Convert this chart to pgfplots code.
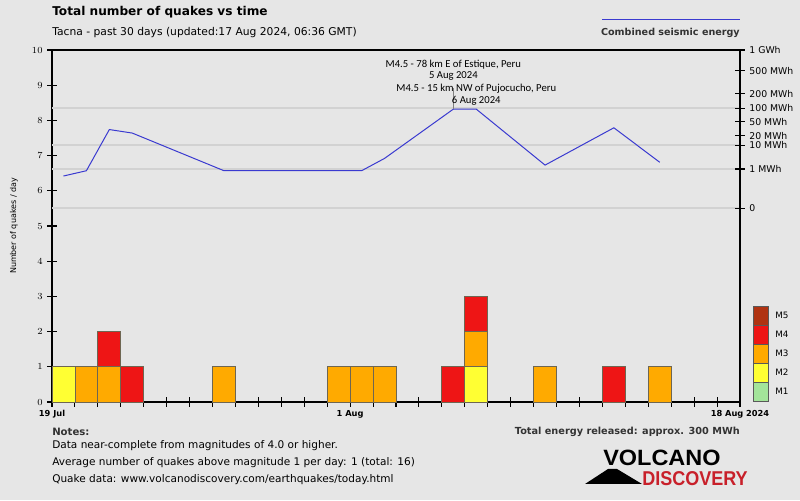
\documentclass[border=0pt]{standalone}
\usepackage{pgfplots}
\usepackage{pgfplotstable}
\pgfplotsset{compat=1.18}
\usepackage{fontspec}
\setmainfont{DejaVu Sans}
\newfontfamily\narrowfont{Carlito}
\newfontfamily\logofont{Liberation Sans}

\definecolor{bg}{HTML}{E6E6E6}
\definecolor{gridc}{HTML}{D2D2D2}
\definecolor{eblue}{HTML}{3A3AD0}
\definecolor{myyellow}{HTML}{FFFF33}
\definecolor{myorange}{HTML}{FFAA00}
\definecolor{myred}{HTML}{EE1515}
\definecolor{mybrown}{HTML}{B03312}
\definecolor{mygreen}{HTML}{A3E49A}
\definecolor{barline}{HTML}{6E6652}
\definecolor{logored}{HTML}{C8202A}

% quakes per day, bar centred on day + 0.5 (day 0 = 19 Jul)
\pgfplotstableread{
day  m2 m3 m4
0.5  1  0  0
1.5  0  1  0
2.5  0  1  1
3.5  0  0  1
7.5  0  1  0
12.5 0  1  0
13.5 0  1  0
14.5 0  1  0
17.5 0  0  1
18.5 1  1  1
21.5 0  1  0
24.5 0  0  1
26.5 0  1  0
}\bars

% combined energy, already mapped onto the 0-10 scale of the left axis
\pgfplotstableread{
day  e
0.5  6.42
1.5  6.57
2.5  7.74
3.5  7.64
7.5  6.57
12.5 6.57
13.5 6.57
14.5 6.92
17.5 8.32
18.5 8.32
21.5 6.73
24.5 7.79
26.5 6.81
}\energy

\pgfplotsset{frame/.style={
  at={(39pt,73.5pt)}, anchor=south west,
  scale only axis, width=516pt, height=264pt,
  xmin=0, xmax=30, ymin=0, ymax=10,
  axis line style={black, line width=0.9pt},
  tick align=center, major tick length=7pt,
  tick style={black, line width=0.8pt},
  ticklabel style={font=\fontsize{7}{8}\selectfont},
  clip=false,
}}

\begin{document}
\begin{tikzpicture}
\begin{scope}[x=0.75pt,y=0.75pt]
\fill[bg] (0,0) rectangle (800,500);
\useasboundingbox (0,0) rectangle (800,500);
% titles
\node[anchor=west, inner sep=0, font=\bfseries\fontsize{9.1}{11}\selectfont] at (52,488) {Total number of quakes vs time};
\node[anchor=west, inner sep=0, font=\fontsize{8.05}{9}\selectfont] at (52,467) {Tacna - past 30 days (updated:17 Aug 2024, 06:36 GMT)};
% energy legend
\draw[eblue, line width=0.75pt] (602,480) -- (740,480);
\node[anchor=east, inner sep=0, font=\bfseries\fontsize{7.2}{9}\selectfont, text=black!80] at (740,467) {Combined seismic energy};
% y label
\node[rotate=90, inner sep=0, font=\fontsize{6}{7}\selectfont] at (14,274) {Number of quakes / day};
\end{scope}

\begin{axis}[frame,
  ybar stacked, bar width=1,
  xtick={0,...,30},
  xticklabels={19 Jul,,,,,,,,,,,,,1 Aug,,,,,,,,,,,,,,,,,18 Aug 2024},
  ytick={0,...,10},
  xtick pos=bottom, ytick pos=left,
  xticklabel style={yshift=1pt, font=\bfseries\fontsize{6.2}{7}\selectfont},
  extra y ticks={5.51,6.62,7.29,8.34},
  extra y tick labels={},
  extra y tick style={grid=major, major grid style={draw=gridc, line width=1.4pt}, major tick length=0pt, tick style={draw=none}},
]
\addplot[fill=myyellow, draw=barline, line width=0.6pt] table[x=day, y=m2] {\bars};
\addplot[fill=myorange, draw=barline, line width=0.6pt] table[x=day, y=m3] {\bars};
\addplot[fill=myred, draw=barline, line width=0.6pt] table[x=day, y=m4] {\bars};
\end{axis}

\begin{axis}[frame,
  axis x line=none, axis y line*=right,
  ytick={5.51,6.62,7.29,7.56,7.96,8.34,8.76,9.41,10},
  yticklabels={0,1 MWh,10 MWh,20 MWh,50 MWh,100 MWh,200 MWh,500 MWh,1 GWh},
]
\addplot[eblue, line width=0.75pt, mark=none] table[x=day, y=e] {\energy};
\draw[gray, line width=0.4pt] (axis cs:17.5,8.32) -- (axis cs:17.5,8.92);
\node[align=center, inner sep=0, font=\narrowfont\fontsize{8}{8.3}\selectfont] at (axis cs:17.5,9.42) {M4.5 - 78 km E of Estique, Peru\\5 Aug 2024};
\node[align=center, inner sep=0, font=\narrowfont\fontsize{8}{8.3}\selectfont] at (axis cs:18.5,8.73) {M4.5 - 15 km NW of Pujocucho, Peru\\6 Aug 2024};
\end{axis}

\begin{scope}[x=0.75pt,y=0.75pt]
% magnitude legend
\foreach \c/\lab [count=\i] in {mybrown/M5,myred/M4,myorange/M3,myyellow/M2,mygreen/M1}{
  \filldraw[fill=\c, draw=black!65, line width=0.6pt] (753,{194-19*(\i-1)}) rectangle (768,{175-19*(\i-1)});
  \node[anchor=west, inner sep=0, font=\fontsize{6.6}{7}\selectfont] at (775,{184.5-19*(\i-1)}) {\lab};
}
% notes
\node[anchor=west, inner sep=0, font=\bfseries\fontsize{7.6}{9}\selectfont, text=black!80] at (52,68) {Notes:};
\node[anchor=west, inner sep=0, font=\fontsize{7.9}{9}\selectfont] at (52,54) {Data near-complete from magnitudes of 4.0 or higher.};
\node[anchor=west, inner sep=0, font=\fontsize{7.9}{9}\selectfont] at (52,37) {Average number of quakes above magnitude 1 per day: 1 (total: 16)};
\node[anchor=west, inner sep=0, font=\fontsize{7.9}{9}\selectfont] at (52,20) {Quake data: www.volcanodiscovery.com/earthquakes/today.html};
\node[anchor=east, inner sep=0, font=\bfseries\fontsize{7.3}{9}\selectfont, text=black!80] at (740,68) {Total energy released: approx. 300 MWh};
% logo
\node[anchor=west, inner sep=0, font=\logofont\bfseries\fontsize{16.6}{18}\selectfont] at (603,42) {\scalebox{1.06}[1]{VOLCANO}};
\node[anchor=west, inner sep=0, font=\logofont\bfseries\fontsize{15}{16}\selectfont, text=logored] at (642,21) {\scalebox{0.9}[1]{DISCOVERY}};
\fill[black] (585,16) -- (608,31) -- (617,31) -- (642,16) -- cycle;
\end{scope}
\end{tikzpicture}
\end{document}
